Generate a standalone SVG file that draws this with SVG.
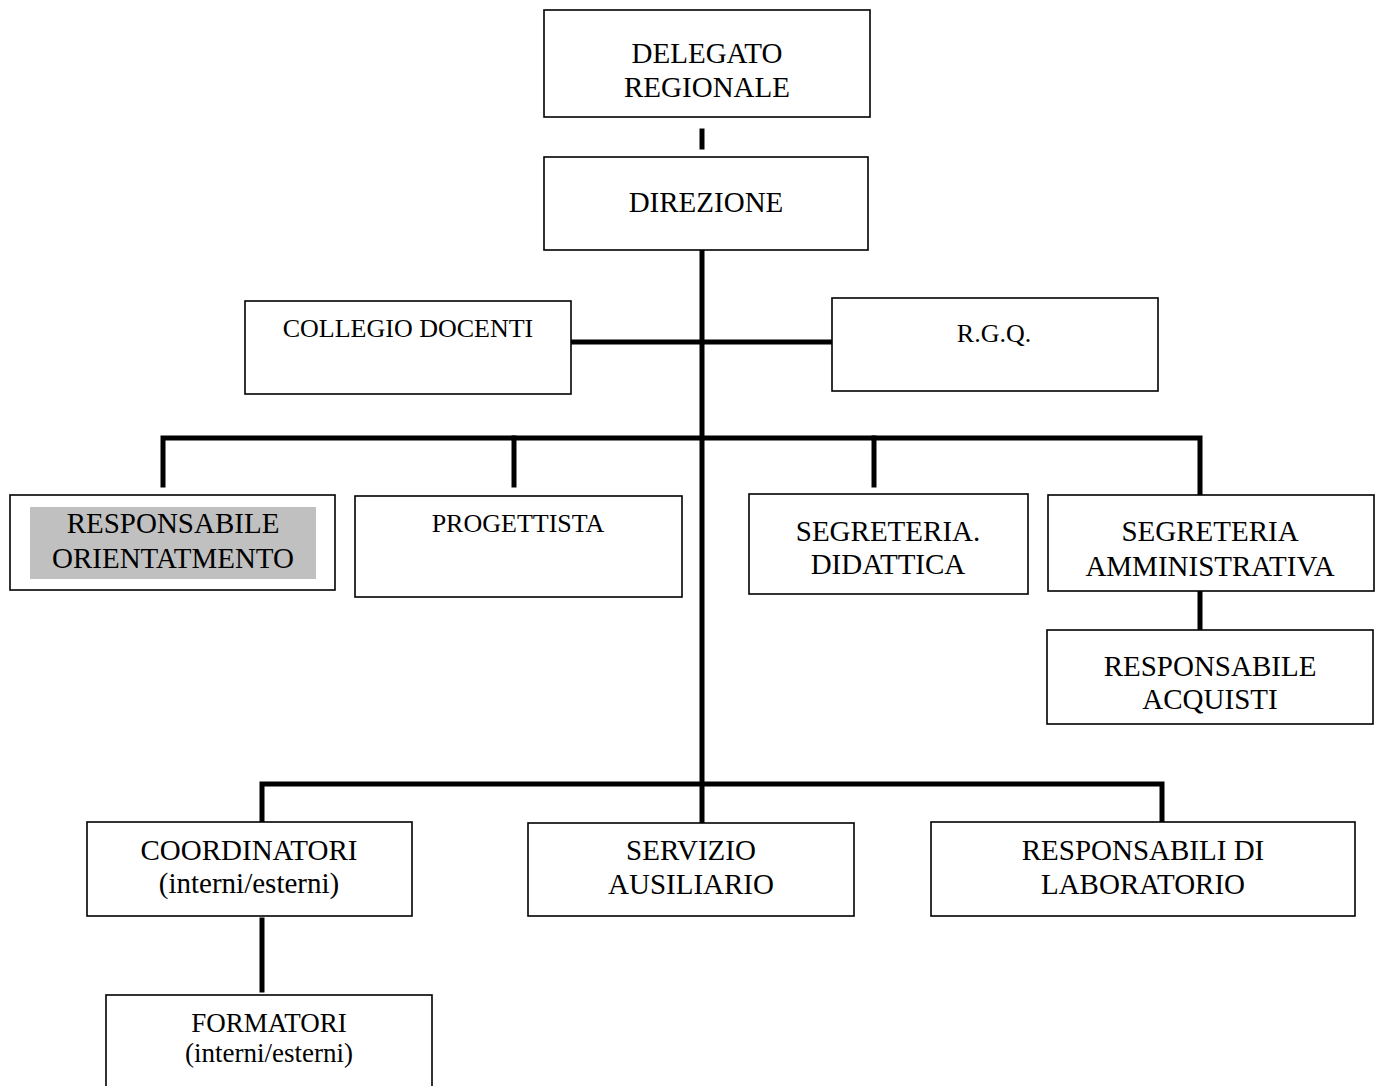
<svg xmlns="http://www.w3.org/2000/svg" width="1377" height="1086" viewBox="0 0 1377 1086">
<style>
.box{fill:#fff;stroke:#000;stroke-width:1.6}
.t{font-family:"Liberation Serif","Times New Roman",serif;font-size:29px;fill:#000;text-anchor:middle}
.s{font-size:26px}
.f{font-size:27px}
.c{stroke:#000;stroke-width:5;fill:none;stroke-linecap:square}
</style>
<rect width="1377" height="1086" fill="#fff"/>
<g id="connectors">
<line class="c" x1="702" y1="131" x2="702" y2="147"/>
<line class="c" x1="702" y1="251" x2="702" y2="821"/>
<line class="c" x1="569" y1="342" x2="833" y2="342"/>
<polyline class="c" points="163,485 163,438 1200,438 1200,493"/>
<line class="c" x1="514" y1="438" x2="514" y2="485"/>
<line class="c" x1="874" y1="438" x2="874" y2="485"/>
<line class="c" x1="1200" y1="593" x2="1200" y2="629"/>
<polyline class="c" points="262,821 262,784 1162,784 1162,821"/>
<line class="c" x1="262" y1="920" x2="262" y2="990"/>
</g>
<g id="delegato">
<rect class="box" x="544" y="10" width="326" height="107"/>
<text class="t" x="707" y="63">DELEGATO</text>
<text class="t" x="707" y="97">REGIONALE</text>
</g>
<g id="direzione">
<rect class="box" x="544" y="157" width="324" height="93"/>
<text class="t" x="706" y="212">DIREZIONE</text>
</g>
<g id="collegio">
<rect class="box" x="245" y="301" width="326" height="93"/>
<text class="t s" x="408" y="337">COLLEGIO DOCENTI</text>
</g>
<g id="rgq">
<rect class="box" x="832" y="298" width="326" height="93"/>
<text class="t s" x="994" y="342">R.G.Q.</text>
</g>
<g id="resp-orient">
<rect class="box" x="10" y="495" width="325" height="95"/>
<rect x="30" y="507" width="286" height="72" fill="#c0c0c0"/>
<text class="t" x="173" y="533">RESPONSABILE</text>
<text class="t" x="173" y="568">ORIENTATMENTO</text>
</g>
<g id="progettista">
<rect class="box" x="355" y="496" width="327" height="101"/>
<text class="t s" x="518" y="532">PROGETTISTA</text>
</g>
<g id="seg-did">
<rect class="box" x="749" y="494" width="279" height="100"/>
<text class="t" x="888" y="541">SEGRETERIA.</text>
<text class="t" x="888" y="574">DIDATTICA</text>
</g>
<g id="seg-amm">
<rect class="box" x="1048" y="495" width="326" height="96"/>
<text class="t" x="1210" y="541">SEGRETERIA</text>
<text class="t" x="1210" y="576">AMMINISTRATIVA</text>
</g>
<g id="resp-acq">
<rect class="box" x="1047" y="630" width="326" height="94"/>
<text class="t" x="1210" y="676">RESPONSABILE</text>
<text class="t" x="1210" y="709">ACQUISTI</text>
</g>
<g id="coordinatori">
<rect class="box" x="87" y="822" width="325" height="94"/>
<text class="t" x="249" y="860">COORDINATORI</text>
<text class="t" x="249" y="893">(interni/esterni)</text>
</g>
<g id="servizio">
<rect class="box" x="528" y="823" width="326" height="93"/>
<text class="t" x="691" y="860">SERVIZIO</text>
<text class="t" x="691" y="894">AUSILIARIO</text>
</g>
<g id="resp-lab">
<rect class="box" x="931" y="822" width="424" height="94"/>
<text class="t" x="1143" y="860">RESPONSABILI DI</text>
<text class="t" x="1143" y="894">LABORATORIO</text>
</g>
<g id="formatori">
<rect class="box" x="106" y="995" width="326" height="100"/>
<text class="t f" x="269" y="1032">FORMATORI</text>
<text class="t f" x="269" y="1062">(interni/esterni)</text>
</g>
</svg>
